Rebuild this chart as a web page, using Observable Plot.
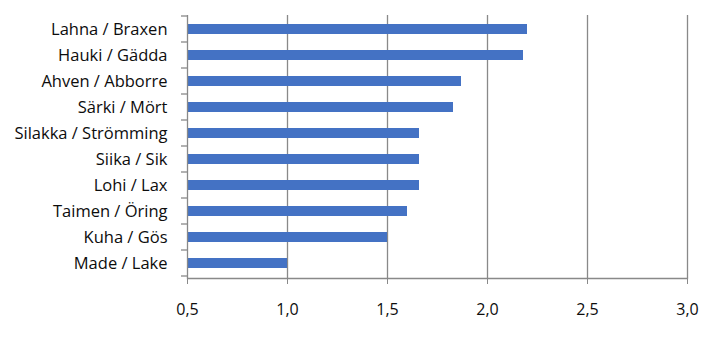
<!DOCTYPE html>
<html>
<head>
<meta charset="utf-8">
<script src="https://cdn.jsdelivr.net/npm/d3@7"></script>
<script src="https://cdn.jsdelivr.net/npm/@observablehq/plot@0.6"></script>
<style>
  html, body { margin: 0; padding: 0; background: #fff; }
</style>
</head>
<body>
<div id="chart"></div>
<script>
const names = [
  "Lahna / Braxen", "Hauki / Gädda", "Ahven / Abborre", "Särki / Mört",
  "Silakka / Strömming", "Siika / Sik", "Lohi / Lax", "Taimen / Öring",
  "Kuha / Gös", "Made / Lake"
];
const values = [2.2, 2.18, 1.87, 1.83, 1.66, 1.66, 1.66, 1.6, 1.5, 1.0];
const xTicks = [0.5, 1.0, 1.5, 2.0, 2.5, 3.0];
const xTickLabels = ["0,5", "1,0", "1,5", "2,0", "2,5", "3,0"];

const data = names.map((n, i) => ({name: n, value: values[i]}));
const grey = "#898989";
const baseline = xTicks[0];

const plot = Plot.plot({
  width: 709,
  height: 340,
  marginLeft: 187,
  marginRight: 22,
  marginTop: 15,
  marginBottom: 62,
  style: {fontSize: "16.5px", fontFamily: "'Open Sans', sans-serif", color: "#0d0d0d", background: "#fff"},
  x: {domain: [xTicks[0], xTicks[xTicks.length - 1]], label: null},
  y: {domain: names, paddingInner: 0.6, paddingOuter: 0.3, label: null},
  marks: [
    Plot.gridX(xTicks.slice(1), {stroke: grey, strokeOpacity: 1, strokeWidth: 1.3}),
    Plot.barX(data, {y: "name", x1: baseline, x2: "value", fill: "#4472C4"}),
    Plot.ruleX([baseline], {stroke: grey, strokeWidth: 1.3}),
    Plot.frame({anchor: "bottom", stroke: grey, strokeWidth: 1.3}),
    Plot.axisX({ticks: xTicks, tickFormat: d => xTickLabels[xTicks.indexOf(d)], tickSize: 6, tickPadding: 19, stroke: grey, fontSize: 16, label: null}),
    Plot.axisY({tickSize: 0, tickPadding: 20, fontSize: 16.5, label: null})
  ]
});

// boundary tick marks on the category axis, placed from the band scale
const ys = plot.scale("y");
const gap = (ys.step - ys.bandwidth) / 2;
const xs = plot.scale("x");
const x0 = xs.apply(baseline);
const svg = d3.select(plot.tagName === "svg" ? plot : plot.querySelector("svg"));
const bounds = names.map(n => ys.apply(n) - gap);
bounds.push(ys.apply(names[names.length - 1]) + ys.bandwidth + gap);
svg.append("g").selectAll("line").data(bounds).join("line")
  .attr("x1", x0 - 6).attr("x2", x0).attr("y1", d => d).attr("y2", d => d)
  .attr("stroke", grey).attr("stroke-width", 1.3);

document.getElementById("chart").appendChild(plot);
</script>
</body>
</html>
